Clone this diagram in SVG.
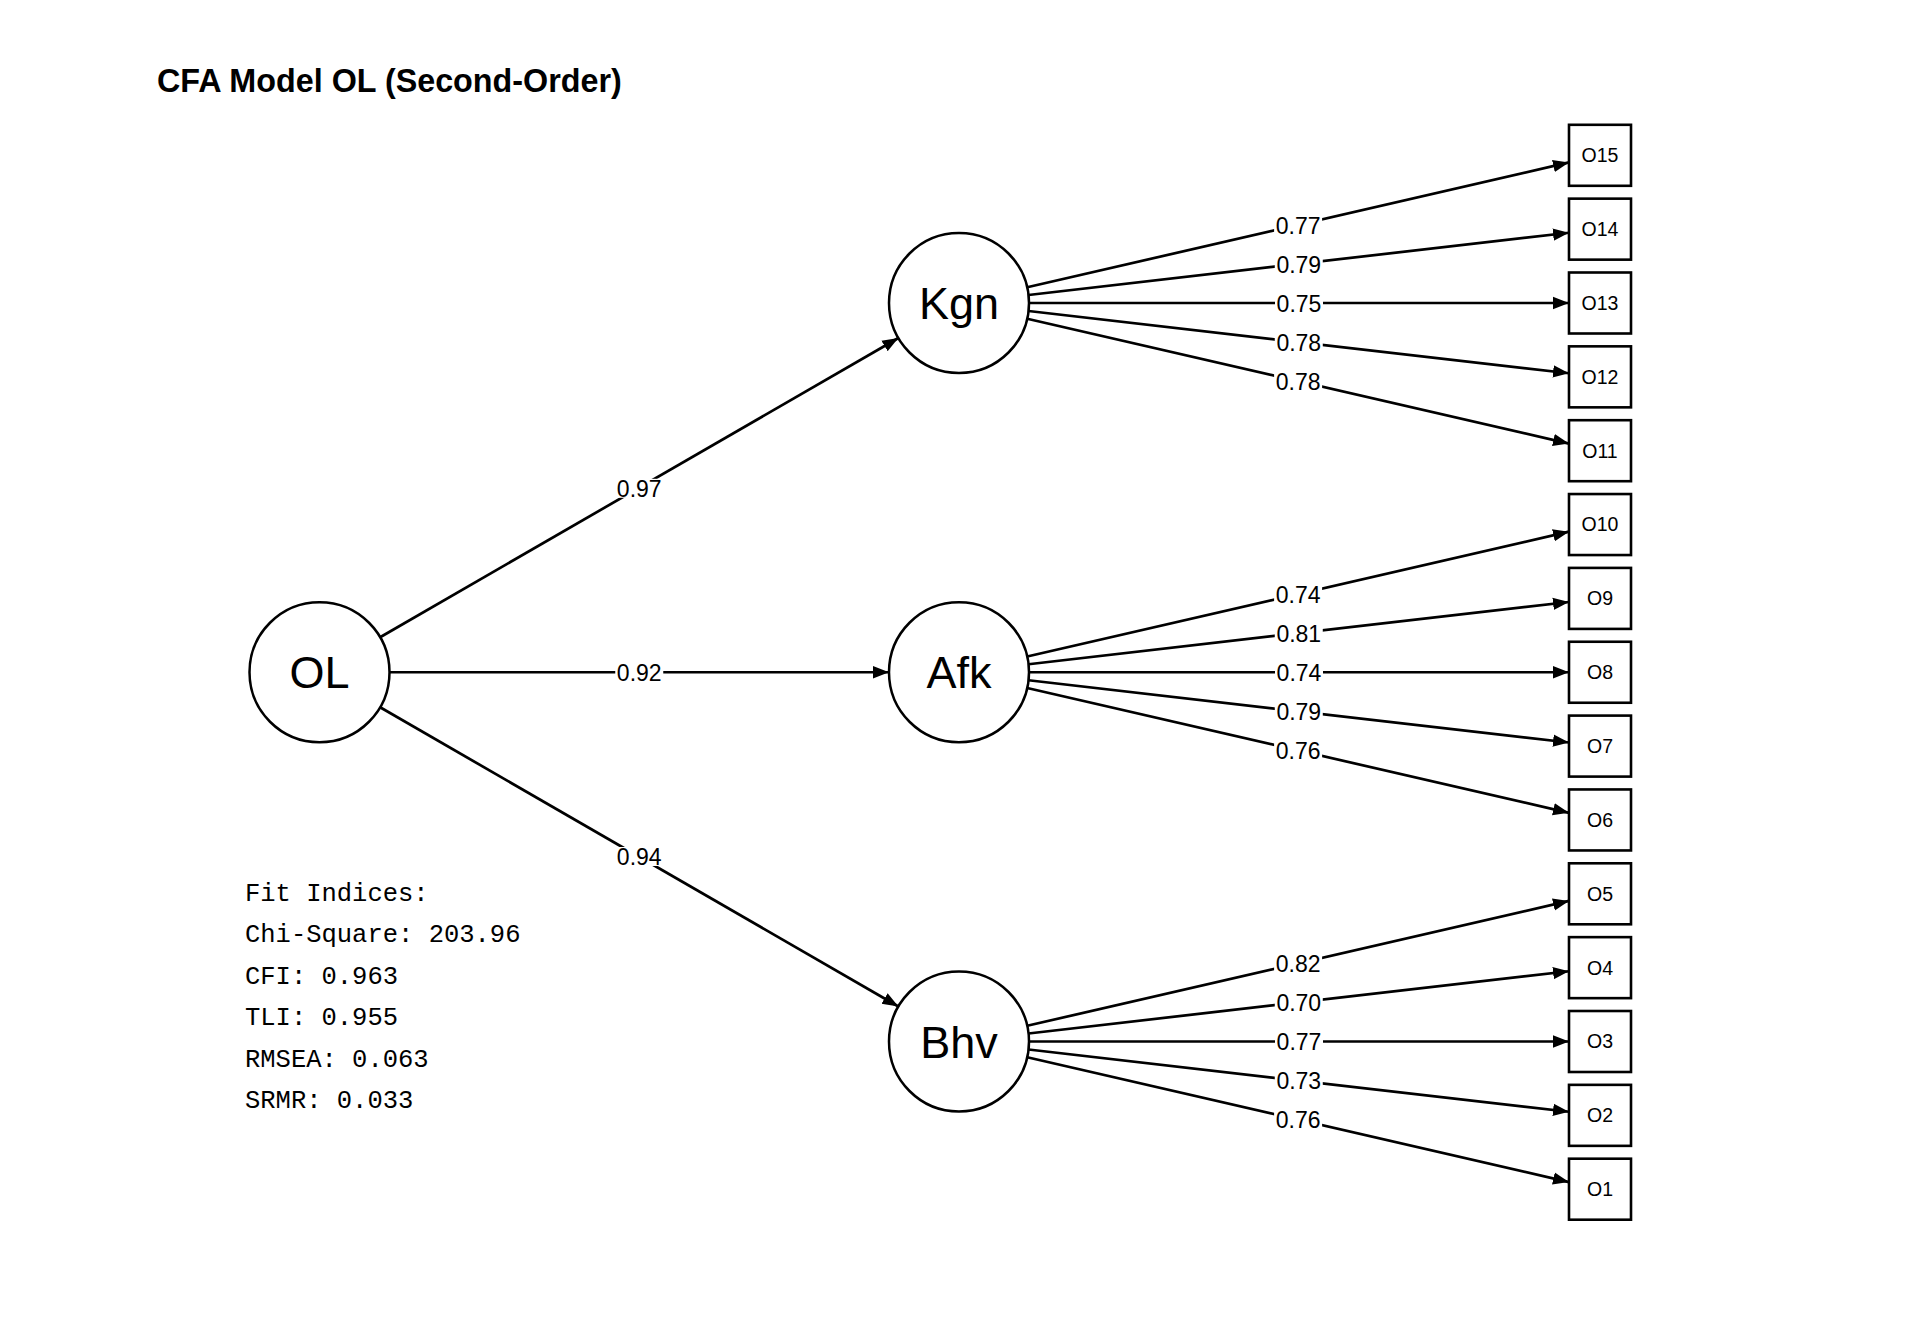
<svg xmlns="http://www.w3.org/2000/svg" width="1920" height="1344" viewBox="0 0 1920 1344">
<style>
.lat{fill:#fff;stroke:#000;stroke-width:2.5}
.obs{fill:#fff;stroke:#000;stroke-width:2.6}
.lt{font-family:"Liberation Sans",Arial,sans-serif;font-size:45px;text-anchor:middle;fill:#000}
.ot{font-family:"Liberation Sans",Arial,sans-serif;font-size:19.5px;text-anchor:middle;fill:#000}
.e{stroke:#000;stroke-width:2.7;fill:none;marker-end:url(#ah)}
.bg{fill:#fff;stroke:none}
.el{font-family:"Liberation Sans",Arial,sans-serif;font-size:23px;text-anchor:middle;fill:#000}
.fit{font-family:"Liberation Mono","Courier New",monospace;font-size:25.5px;fill:#000}
.title{font-family:"Liberation Sans",Arial,sans-serif;font-size:32.3px;font-weight:bold;fill:#000}
</style>
<defs>
<marker id="ah" markerUnits="userSpaceOnUse" markerWidth="18" markerHeight="14" refX="16" refY="7" orient="auto">
<path d="M0,0.8 L16,7 L0,13.2 z" fill="#000"/>
</marker>
</defs>
<rect width="1920" height="1344" fill="#fff"/>
<text class="title" x="157" y="92">CFA Model OL (Second-Order)</text>

<g id="connectors">
<line class="e" x1="380.1" y1="637.25" x2="898.4" y2="338"/>
<line class="e" x1="389.5" y1="672.25" x2="889" y2="672.25"/>
<line class="e" x1="380.1" y1="707.25" x2="898.4" y2="1006.5"/>

<line class="e" x1="1027.2" y1="287.28" x2="1569" y2="162.44"/>
<line class="e" x1="1028.54" y1="294.99" x2="1569" y2="232.72"/>
<line class="e" x1="1029" y1="303" x2="1569" y2="303"/>
<line class="e" x1="1028.54" y1="311.01" x2="1569" y2="373.28"/>
<line class="e" x1="1027.2" y1="318.72" x2="1569" y2="443.56"/>

<line class="e" x1="1027.2" y1="656.53" x2="1569" y2="531.69"/>
<line class="e" x1="1028.54" y1="664.24" x2="1569" y2="601.97"/>
<line class="e" x1="1029" y1="672.25" x2="1569" y2="672.25"/>
<line class="e" x1="1028.54" y1="680.26" x2="1569" y2="742.53"/>
<line class="e" x1="1027.2" y1="687.97" x2="1569" y2="812.81"/>

<line class="e" x1="1027.2" y1="1025.78" x2="1569" y2="900.94"/>
<line class="e" x1="1028.54" y1="1033.49" x2="1569" y2="971.22"/>
<line class="e" x1="1029" y1="1041.5" x2="1569" y2="1041.5"/>
<line class="e" x1="1028.54" y1="1049.51" x2="1569" y2="1111.78"/>
<line class="e" x1="1027.2" y1="1057.22" x2="1569" y2="1182.06"/>

<rect class="bg" x="615.25" y="478.8" width="48" height="19"/>
<rect class="bg" x="615.25" y="663.25" width="48" height="19"/>
<rect class="bg" x="615.25" y="847" width="48" height="19"/>
<text class="el" x="639.25" y="496.5">0.97</text>
<text class="el" x="639.25" y="680.95">0.92</text>
<text class="el" x="639.25" y="864.7">0.94</text>

<rect class="bg" x="1274.1" y="215.86" width="48" height="19"/>
<rect class="bg" x="1274.77" y="254.86" width="48" height="19"/>
<rect class="bg" x="1275" y="294" width="48" height="19"/>
<rect class="bg" x="1274.77" y="333.14" width="48" height="19"/>
<rect class="bg" x="1274.1" y="372.14" width="48" height="19"/>
<text class="el" x="1298.1" y="233.56">0.77</text>
<text class="el" x="1298.77" y="272.56">0.79</text>
<text class="el" x="1299" y="311.7">0.75</text>
<text class="el" x="1298.77" y="350.84">0.78</text>
<text class="el" x="1298.1" y="389.84">0.78</text>

<rect class="bg" x="1274.1" y="585.11" width="48" height="19"/>
<rect class="bg" x="1274.77" y="624.11" width="48" height="19"/>
<rect class="bg" x="1275" y="663.25" width="48" height="19"/>
<rect class="bg" x="1274.77" y="702.39" width="48" height="19"/>
<rect class="bg" x="1274.1" y="741.39" width="48" height="19"/>
<text class="el" x="1298.1" y="602.81">0.74</text>
<text class="el" x="1298.77" y="641.81">0.81</text>
<text class="el" x="1299" y="680.95">0.74</text>
<text class="el" x="1298.77" y="720.09">0.79</text>
<text class="el" x="1298.1" y="759.09">0.76</text>

<rect class="bg" x="1274.1" y="954.36" width="48" height="19"/>
<rect class="bg" x="1274.77" y="993.36" width="48" height="19"/>
<rect class="bg" x="1275" y="1032.5" width="48" height="19"/>
<rect class="bg" x="1274.77" y="1071.64" width="48" height="19"/>
<rect class="bg" x="1274.1" y="1110.64" width="48" height="19"/>
<text class="el" x="1298.1" y="972.06">0.82</text>
<text class="el" x="1298.77" y="1011.06">0.70</text>
<text class="el" x="1299" y="1050.2">0.77</text>
<text class="el" x="1298.77" y="1089.34">0.73</text>
<text class="el" x="1298.1" y="1128.34">0.76</text>
</g>

<g id="OL"><circle class="lat" cx="319.5" cy="672.25" r="70"/><text class="lt" x="319.5" y="688.3">OL</text></g>
<g id="Kgn"><circle class="lat" cx="959" cy="303" r="70"/><text class="lt" x="959" y="319">Kgn</text></g>
<g id="Afk"><circle class="lat" cx="959" cy="672.25" r="70"/><text class="lt" x="959" y="688.3">Afk</text></g>
<g id="Bhv"><circle class="lat" cx="959" cy="1041.5" r="70"/><text class="lt" x="959" y="1057.5">Bhv</text></g>

<g id="O15"><rect class="obs" x="1569" y="124.8" width="62" height="61"/><text class="ot" x="1600" y="162.2">O15</text></g>
<g id="O14"><rect class="obs" x="1569" y="198.65" width="62" height="61"/><text class="ot" x="1600" y="236.05">O14</text></g>
<g id="O13"><rect class="obs" x="1569" y="272.5" width="62" height="61"/><text class="ot" x="1600" y="309.9">O13</text></g>
<g id="O12"><rect class="obs" x="1569" y="346.35" width="62" height="61"/><text class="ot" x="1600" y="383.75">O12</text></g>
<g id="O11"><rect class="obs" x="1569" y="420.2" width="62" height="61"/><text class="ot" x="1600" y="457.6">O11</text></g>
<g id="O10"><rect class="obs" x="1569" y="494.05" width="62" height="61"/><text class="ot" x="1600" y="531.45">O10</text></g>
<g id="O9"><rect class="obs" x="1569" y="567.9" width="62" height="61"/><text class="ot" x="1600" y="605.3">O9</text></g>
<g id="O8"><rect class="obs" x="1569" y="641.75" width="62" height="61"/><text class="ot" x="1600" y="679.15">O8</text></g>
<g id="O7"><rect class="obs" x="1569" y="715.6" width="62" height="61"/><text class="ot" x="1600" y="753">O7</text></g>
<g id="O6"><rect class="obs" x="1569" y="789.45" width="62" height="61"/><text class="ot" x="1600" y="826.85">O6</text></g>
<g id="O5"><rect class="obs" x="1569" y="863.3" width="62" height="61"/><text class="ot" x="1600" y="900.7">O5</text></g>
<g id="O4"><rect class="obs" x="1569" y="937.15" width="62" height="61"/><text class="ot" x="1600" y="974.55">O4</text></g>
<g id="O3"><rect class="obs" x="1569" y="1011" width="62" height="61"/><text class="ot" x="1600" y="1048.4">O3</text></g>
<g id="O2"><rect class="obs" x="1569" y="1084.85" width="62" height="61"/><text class="ot" x="1600" y="1122.25">O2</text></g>
<g id="O1"><rect class="obs" x="1569" y="1158.7" width="62" height="61"/><text class="ot" x="1600" y="1196.1">O1</text></g>

<g id="fit">
<text class="fit" x="245" y="900.7">Fit Indices:</text>
<text class="fit" x="245" y="942.2">Chi-Square: 203.96</text>
<text class="fit" x="245" y="983.7">CFI: 0.963</text>
<text class="fit" x="245" y="1025.2">TLI: 0.955</text>
<text class="fit" x="245" y="1066.7">RMSEA: 0.063</text>
<text class="fit" x="245" y="1108.2">SRMR: 0.033</text>
</g>
</svg>
